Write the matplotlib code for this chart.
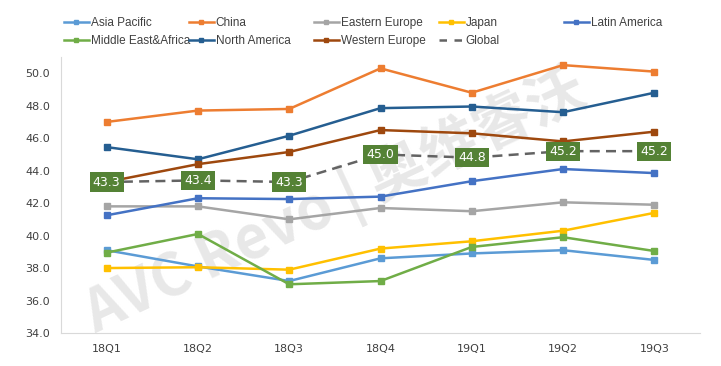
import matplotlib.pyplot as plt
from matplotlib.lines import Line2D

plt.rcParams['font.family'] = ['DejaVu Sans']

quarters = ['18Q1', '18Q2', '18Q3', '18Q4', '19Q1', '19Q2', '19Q3']

asia_pacific = [39.1, 38.1, 37.2, 38.6, 38.9, 39.1, 38.5]
china = [47.0, 47.7, 47.8, 50.3, 48.8, 50.5, 50.1]
eastern_europe = [41.8, 41.8, 41.0, 41.7, 41.5, 42.05, 41.9]
japan = [38.0, 38.05, 37.9, 39.2, 39.65, 40.3, 41.4]
latin_america = [41.25, 42.3, 42.25, 42.4, 43.35, 44.1, 43.85]
middle_east = [38.95, 40.1, 37.0, 37.2, 39.3, 39.9, 39.05]
north_america = [45.45, 44.7, 46.15, 47.85, 47.95, 47.6, 48.8]
western_europe = [43.3, 44.4, 45.15, 46.5, 46.3, 45.8, 46.4]
global_avg = [43.3, 43.4, 43.3, 45.0, 44.8, 45.2, 45.2]

series = [
    ('Asia Pacific', asia_pacific, '#5B9BD5'),
    ('China', china, '#ED7D31'),
    ('Eastern Europe', eastern_europe, '#A5A5A5'),
    ('Japan', japan, '#FFC000'),
    ('Latin America', latin_america, '#4472C4'),
    ('Middle East&Africa', middle_east, '#70AD47'),
    ('North America', north_america, '#255E91'),
    ('Western Europe', western_europe, '#9E480E'),
]

fig = plt.figure(figsize=(7.21, 3.66), dpi=100)
ax = fig.add_axes([61 / 721, 33 / 366, 639 / 721, 276 / 366])

x = list(range(len(quarters)))
handles = []
for name, vals, col in series:
    h, = ax.plot(x, vals, color=col, lw=1.8, marker='s', ms=4.5, label=name, zorder=3)
    handles.append(h)

g, = ax.plot(x, global_avg, color='#636363', lw=1.8, ls=(0, (4, 2.5)), label='Global', zorder=2)
handles.append(g)

for xi, v in zip(x, global_avg):
    ax.text(xi, v, f'{v:.1f}', ha='center', va='center', color='white', fontsize=9,
            bbox=dict(boxstyle='square,pad=0.25', fc='#548235', ec='none'), zorder=5)

# watermark
ax.text(0.43, 0.47, 'AVC Revo | 奥维睿沃', transform=ax.transAxes, rotation=25,
        ha='center', va='center', fontsize=42, color='#D9D9D9', alpha=0.6,
        family=['Noto Sans CJK SC', 'DejaVu Sans'], fontweight='bold', zorder=1)

ax.set_xlim(-0.5, 6.5)
ax.set_ylim(34, 51)
ax.set_yticks([34, 36, 38, 40, 42, 44, 46, 48, 50])
ax.set_yticklabels([f'{t:.1f}' for t in ax.get_yticks()])
ax.set_xticks(x)
ax.set_xticklabels(quarters)
ax.tick_params(length=0, labelsize=8, colors='#404040', pad=8)
for s in ['top', 'right']:
    ax.spines[s].set_visible(False)
for s in ['left', 'bottom']:
    ax.spines[s].set_color('#D9D9D9')

# legend: one small legend per column
col_x = [64, 189, 314, 439, 564]
cols = [[0, 5], [1, 6], [2, 7], [3, 8], [4]]
for cx, idx in zip(col_x, cols):
    hs = []
    for i in idx:
        h = handles[i]
        if i == 8:
            hs.append(Line2D([], [], color=h.get_color(), lw=1.8, ls=(0, (3, 3))))
        else:
            hs.append(Line2D([], [], color=h.get_color(), lw=1.8, marker='s', ms=3.5))
    leg = fig.legend(hs, [handles[i].get_label() for i in idx], loc='upper left',
                     bbox_to_anchor=(cx / 721, 1 - 17 / 366), frameon=False,
                     prop={'family': 'Liberation Sans', 'size': 8.5},
                     handlelength=2.1, handletextpad=0.15, labelspacing=0.5,
                     borderaxespad=0, borderpad=0)
    for t in leg.get_texts():
        t.set_color('#404040')

fig.savefig('out.png', dpi=100)
